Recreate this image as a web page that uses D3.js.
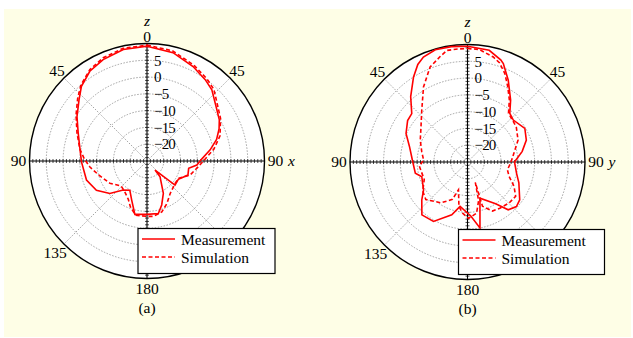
<!DOCTYPE html>
<html>
<head>
<meta charset="utf-8">
<script src="https://cdn.jsdelivr.net/npm/d3@7"></script>
<style>
  body { margin: 0; background: #fff; }
  svg { display: block; font-family: "Liberation Serif", "Times New Roman", serif; }
</style>
</head>
<body>
<svg id="chart" width="633" height="338"></svg>
<script>
// [angle in degrees clockwise from z, gain in dB]
const measA = [[0,9.2],[13.5,8.2],[26,6.3],[35.6,4.8],[42.3,3.7],[53.8,0.8],[60.3,-0.2],[66,-1.5],[72.8,-3.3],
  [80,-5.9],[88,-8.7],[94.6,-10.1],[100,-12.4],[109,-12.1],[120.3,-14.2],[130.6,-14],[138.4,-21.4],[140.4,-18.9],
  [153.2,-14.2],[161.5,-11.2],[167.8,-9.0],[180,-9.1],[192.8,-8.7],[201.4,-12.5],[210.4,-14.9],[219.3,-13.8],
  [228.9,-10.3],[240,-7.6],[252.5,-6.1],[269,-5.5],[282,-4.5],[292,-2.9],[302.4,-0.3],[312,2.25],[318.7,4.6],
  [327.5,6.7],[336.6,7.9],[348,8.95]];
const simA = [[0,9.5],[13,8.7],[26,6.8],[36,5.3],[43,4.2],[54,1.3],[60,0.3],[71,-2.0],[80,-4.8],[90,-8.2],
  [96.3,-9.6],[108,-11.5],[119,-14.3],[128.5,-14.3],[144.5,-13.1],[155,-11],[163.8,-9.2],[173.5,-8.4],[180,-8.5],
  [192,-8.5],[200,-10.5],[206,-12.3],[216,-13.7],[226,-14.3],[239,-12.1],[254,-10],[264,-7.9],[272,-6.3],
  [280,-4.7],[292,-2.5],[303,0.2],[312,2.8],[319,5.0],[328,7.1],[337,8.4],[348,9.3]];
const measB = [[0,9.5],[11,8.9],[18,7.0],[20,6.2],[26.5,2.2],[34.8,-2.5],[41,-5.8],[47.5,-6.5],[59.6,-5.2],
  [69.6,-6.3],[79,-8.4],[90,-11],[103,-10],[112,-8.5],[125.9,-5.8],[132.3,-5.3],[139.6,-6.3],[146,-10],
  [161,-13.6],[169.3,-5.0],[176.5,-8.9],[189.5,-11.6],[196.6,-8.6],[209.8,-4.6],[220.8,-4.2],[230.3,-7.3],
  [237.6,-9.5],[252.2,-10.7],[257.8,-9.1],[270,-8.7],[285,-7.1],[295,-4.8],[304.7,-3.3],[311,-3],[319,0.8],
  [327.6,5.0],[333,7.6],[337.2,8.9],[344,9.8],[352,9.7]];
const simB = [[0,8.8],[6,8.7],[13.8,7.2],[18,6.0],[22.9,3.6],[28,0.5],[34,-2.7],[40,-6.0],[54.3,-7.1],
  [66.6,-8.6],[79,-10.9],[91,-12.1],[101,-12.9],[109,-11.9],[117.5,-9.4],[125.4,-7.4],[134.5,-7.6],[145,-8.2],
  [153,-8.6],[161.3,-11.1],[159,-18.5],[164,-13],[170,-9.5],[179,-8.2],[186,-9.8],[191,-11.6],[198,-16.3],
  [202,-13],[213,-10.5],[228,-8.3],[237,-9.1],[248,-11.1],[265,-10.6],[272.6,-11.9],[283,-11],[294.8,-9.5],
  [304.7,-8.1],[318.6,-4.4],[329.6,0.9],[338.5,5.4],[345.6,7.5],[349.5,8.8],[355,8.8]];

const ringLevels = [5, 0, -5, -10, -15, -20];
const ringLabels = ["5", "0", "\u22125", "\u221210", "\u221215", "\u221220"];
const angleTicks = [0, 45, 90, 135, 180, 225, 270, 315];
const angleLabels = ["0", "45", "90", "135", "180", "135", "90", "45"];
const seriesNames = ["Measurement", "Simulation"];

const svg = d3.select("#chart");
svg.append("rect").attr("x", 4).attr("y", 9).attr("width", 627).attr("height", 328).attr("fill", "#fefee6");

const R = 117.5;
const r = d3.scaleLinear().domain([-25, 10]).range([0, R]);
const ang = d3.scaleLinear().domain([0, 360]).range([0, 2 * Math.PI]);
const px = (a, rad) => rad * Math.sin(ang(a));
const py = (a, rad) => -rad * Math.cos(ang(a));

const panels = [
  { cx: 147, cy: 161, meas: measA, sim: simA, axis: "x", caption: "(a)", legendW: 137 },
  { cx: 467.5, cy: 162, meas: measB, sim: simB, axis: "y", caption: "(b)", legendW: 146 }
];
const legendX = -9, legendY = 67.5, legendH = 45;

const line = d3.lineRadial()
  .angle(d => ang(d[0]))
  .radius(d => r(d[1]))
  .curve(d3.curveLinearClosed);

panels.forEach(p => {
  const g = svg.append("g").attr("transform", `translate(${p.cx},${p.cy})`);

  g.append("circle").attr("r", R).attr("fill", "#fff");

  g.selectAll("circle.ring").data(ringLevels).join("circle")
    .attr("class", "ring")
    .attr("r", d => r(d))
    .attr("fill", "none")
    .attr("stroke", "#8a8a8a")
    .attr("stroke-width", 0.8)
    .attr("stroke-dasharray", "1.5,1.5");

  // dotted diagonal spokes, solid main axes
  g.selectAll("line.spoke").data(angleTicks.filter(a => a % 90 !== 0)).join("line")
    .attr("class", "spoke")
    .attr("x2", d => px(d, R)).attr("y2", d => py(d, R))
    .attr("stroke", "#8a8a8a").attr("stroke-width", 0.8).attr("stroke-dasharray", "1.5,1.5");

  g.selectAll("line.axis").data(angleTicks.filter(a => a % 90 === 0)).join("line")
    .attr("class", "axis")
    .attr("x2", d => px(d, R)).attr("y2", d => py(d, R))
    .attr("stroke", "#000").attr("stroke-width", 1.1);

  // minor ticks every dB along the axes
  const dbs = d3.range(-24, 10);
  [0, 90, 180, 270].forEach(a => {
    const vertical = a % 180 === 0;
    g.append("g").selectAll("line").data(dbs).join("line")
      .attr("x1", d => vertical ? -2 : px(a, r(d)))
      .attr("x2", d => vertical ? 2 : px(a, r(d)))
      .attr("y1", d => vertical ? py(a, r(d)) : -2)
      .attr("y2", d => vertical ? py(a, r(d)) : 2)
      .attr("stroke", "#000").attr("stroke-width", 0.7);
  });

  g.append("circle").attr("r", R).attr("fill", "none").attr("stroke", "#000").attr("stroke-width", 1.4);

  g.selectAll("text.rl").data(ringLevels).join("text")
    .attr("class", "rl")
    .attr("x", 7)
    .attr("y", d => -r(d))
    .attr("dy", "0.35em")
    .attr("font-size", 15)
    .attr("letter-spacing", -0.8)
    .text((d, i) => ringLabels[i]);

  // angle labels; the one behind the legend box is left out
  const labelR = a => R + 7 + 4 * Math.abs(Math.sin(ang(a))) + 3.5 * Math.max(0, -Math.cos(ang(a)));
  const hidden = a => {
    const x = px(a, labelR(a)), y = py(a, labelR(a));
    return x > legendX && x < legendX + p.legendW && y > legendY && y < legendY + legendH;
  };
  const shown = angleTicks.map((a, i) => ({ a, t: angleLabels[i] })).filter(d => !hidden(d.a));
  g.selectAll("text.al").data(shown).join("text")
    .attr("class", "al")
    .attr("x", d => px(d.a, labelR(d.a)))
    .attr("y", d => py(d.a, labelR(d.a)))
    .attr("dy", "0.35em")
    .attr("text-anchor", "middle")
    .attr("font-size", 15.5)
    .text(d => d.t);

  g.append("text").attr("x", 0).attr("y", -R - 22).attr("dy", "0.3em")
    .attr("text-anchor", "middle").attr("font-size", 15.5).attr("font-style", "italic").text("z");
  g.append("text").attr("x", R + 27).attr("y", 0).attr("dy", "0.3em")
    .attr("text-anchor", "middle").attr("font-size", 15.5).attr("font-style", "italic").text(p.axis);

  g.append("path").datum(p.sim).attr("d", line)
    .attr("fill", "none").attr("stroke", "#ff0000").attr("stroke-width", 1.6)
    .attr("stroke-dasharray", "4,2.5");
  g.append("path").datum(p.meas).attr("d", line)
    .attr("fill", "none").attr("stroke", "#ff0000").attr("stroke-width", 1.6);

  g.append("text").attr("x", 0).attr("y", R + 29).attr("dy", "0.35em")
    .attr("text-anchor", "middle").attr("font-size", 15.5).text(p.caption);

  // legend
  const lg = g.append("g").attr("transform", `translate(${legendX},${legendY})`);
  lg.append("rect").attr("width", p.legendW).attr("height", legendH)
    .attr("fill", "#fff").attr("stroke", "#000").attr("stroke-width", 1.2);
  seriesNames.forEach((name, i) => {
    const y = 10.5 + i * 18;
    lg.append("line").attr("x1", 4).attr("x2", 37).attr("y1", y).attr("y2", y)
      .attr("stroke", "#ff0000").attr("stroke-width", 1.6)
      .attr("stroke-dasharray", i === 1 ? "4,2.5" : null);
    lg.append("text").attr("x", 43).attr("y", y + 6).attr("font-size", 15.5).text(name);
  });
});
</script>
</body>
</html>
